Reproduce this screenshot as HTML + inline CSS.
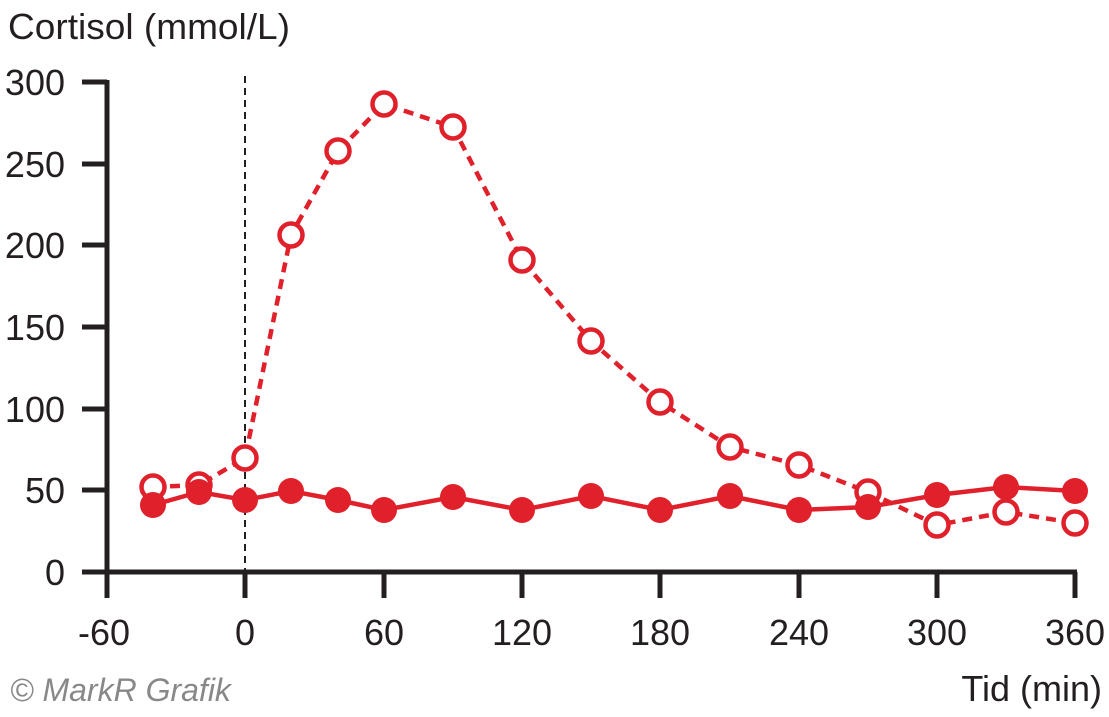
<!DOCTYPE html>
<html><head><meta charset="utf-8"><style>
body{margin:0;background:#fff;}
svg{display:block;}
text{font-family:"Liberation Sans",sans-serif;fill:#231f20;}
</style></head><body>
<svg width="1109" height="717" viewBox="0 0 1109 717" xmlns="http://www.w3.org/2000/svg">
<text x="8" y="39" font-size="36" textLength="282" lengthAdjust="spacingAndGlyphs">Cortisol (mmol/L)</text>
<g font-size="36" text-anchor="end">
<text x="65" y="95">300</text><text x="65" y="177">250</text><text x="65" y="258">200</text>
<text x="65" y="340">150</text><text x="65" y="422">100</text><text x="65" y="503">50</text><text x="65" y="585">0</text>
</g>
<g font-size="36" text-anchor="middle">
<text x="104" y="645">-60</text><text x="245" y="645">0</text><text x="384" y="645">60</text>
<text x="522" y="645">120</text><text x="660" y="645">180</text><text x="799" y="645">240</text>
<text x="937" y="645">300</text><text x="1075" y="645">360</text>
</g>
<text x="1102" y="701" font-size="36" text-anchor="end">Tid (min)</text>
<text x="10" y="701" font-size="32" font-style="italic" style="fill:#888">© MarkR Grafik</text>
<g stroke="#231f20" stroke-width="5" fill="none">
<path d="M107 80V574M82 82H107M82 164H107M82 245H107M82 327H107M82 409H107M82 490H107M82 572H107"/>
<path d="M105 572H1077M107 572V598M245 572V598M384 572V598M522 572V598M660 572V598M799 572V598M937 572V598M1075 572V598"/>
</g>
<line x1="245" y1="76" x2="245" y2="572" stroke="#231f20" stroke-width="2" stroke-dasharray="7,5"/>
<g stroke="#e0202a" stroke-width="4.5" fill="none">
<polyline stroke-dasharray="10,7" points="153,487 199,485 245,458 291,235 338,151 384,104 453,127 522,260 591,341 660,402 730,447 799,465 868,492 937,525 1006,512 1075,523"/>
<g fill="#fff">
<circle cx="153" cy="487" r="11.5"/><circle cx="199" cy="485" r="11.5"/><circle cx="245" cy="458" r="11.5"/><circle cx="291" cy="235" r="11.5"/><circle cx="338" cy="151" r="11.5"/><circle cx="384" cy="104" r="11.5"/><circle cx="453" cy="127" r="11.5"/><circle cx="522" cy="260" r="11.5"/><circle cx="591" cy="341" r="11.5"/><circle cx="660" cy="402" r="11.5"/><circle cx="730" cy="447" r="11.5"/><circle cx="799" cy="465" r="11.5"/><circle cx="868" cy="492" r="11.5"/><circle cx="937" cy="525" r="11.5"/><circle cx="1006" cy="512" r="11.5"/><circle cx="1075" cy="523" r="11.5"/>
</g>
<polyline points="153,505 199,492 245,500 291,491 338,500 384,510 453,497 522,510 591,496 660,510 730,496 799,510 868,507 937,495 1006,487 1075,491"/>
</g>
<g fill="#e0202a">
<circle cx="153" cy="505" r="13"/><circle cx="199" cy="492" r="13"/><circle cx="245" cy="500" r="13"/><circle cx="291" cy="491" r="13"/><circle cx="338" cy="500" r="13"/><circle cx="384" cy="510" r="13"/><circle cx="453" cy="497" r="13"/><circle cx="522" cy="510" r="13"/><circle cx="591" cy="496" r="13"/><circle cx="660" cy="510" r="13"/><circle cx="730" cy="496" r="13"/><circle cx="799" cy="510" r="13"/><circle cx="868" cy="507" r="13"/><circle cx="937" cy="495" r="13"/><circle cx="1006" cy="487" r="13"/><circle cx="1075" cy="491" r="13"/>
</g>
</svg>
</body></html>
